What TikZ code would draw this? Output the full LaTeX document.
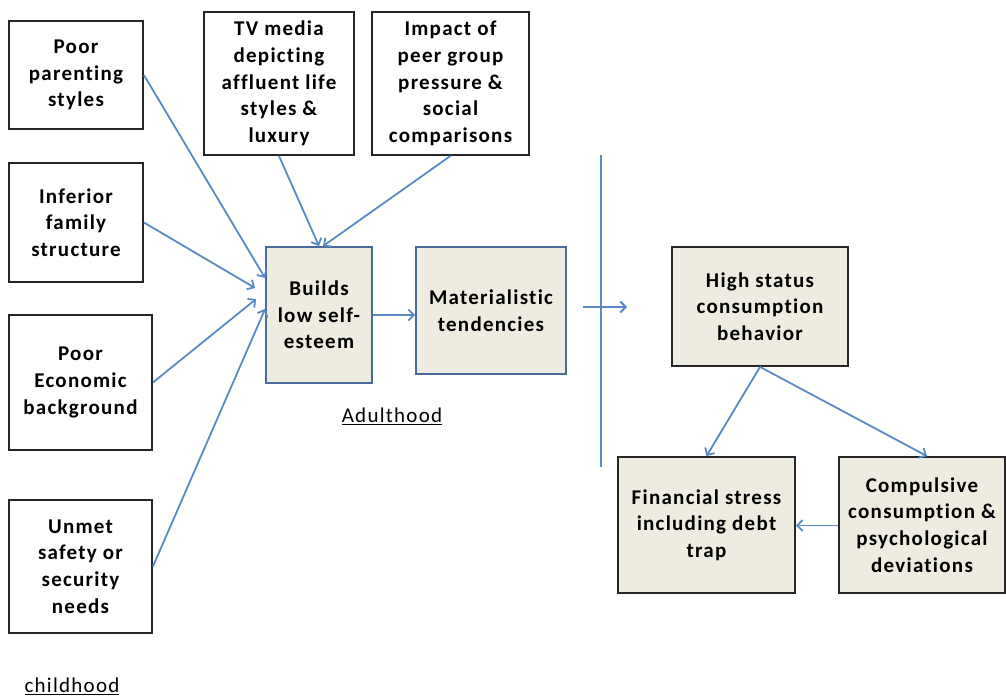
\documentclass[tikz,border=0pt]{standalone}
\usepackage{fontspec}
\setmainfont{Carlito}[LetterSpace=6,Ligatures=NoCommon]
\usetikzlibrary{arrows.meta,calc}
\definecolor{arrowblue}{HTML}{5A8AC6}
\definecolor{boxfill}{HTML}{EEECE1}
\definecolor{boxblue}{HTML}{4A6A9C}
\tikzset{
  every node/.style={font=\fontsize{21pt}{26.7pt}\selectfont\bfseries, align=center, inner sep=0pt},
  wbox/.style={draw=black!85, line width=1.8pt, fill=white},
  bbox/.style={draw=boxblue, line width=1.8pt, fill=boxfill},
  kbox/.style={draw=black!85, line width=1.8pt, fill=boxfill},
  conn/.style={draw=arrowblue, line width=1.8pt, -{Straight Barb[length=5.5pt,width=11pt,line width=1.8pt]}},
  plain/.style={draw=arrowblue, line width=2pt},
  lbl/.style={font=\fontsize{21pt}{24pt}\selectfont}
}
\newcommand{\bx}[7]{% name, style, x1, y1, x2, y2, text
  \node[#2, minimum width={#5-#3}, minimum height={#6-#4}] (#1) at ({(#3+#5)/2},{(#4+#6)/2}) {#7};}
\begin{document}
\begin{tikzpicture}[x=1pt,y=-1pt]
\useasboundingbox (0,0) rectangle (1006,697);
% left column
\bx{pp}{wbox}{9}{21}{143}{129}{Poor\\parenting\\styles}
\bx{inf}{wbox}{9}{163}{143}{282}{Inferior\\family\\structure}
\bx{pe}{wbox}{9}{315}{152}{450}{Poor\\Economic\\background}
\bx{un}{wbox}{9}{500}{152}{633}{Unmet\\safety or\\security\\needs}
% top row
\bx{tv}{wbox}{204}{12}{354}{155}{TV media\\depicting\\affluent life\\styles \&\\luxury}
\bx{im}{wbox}{372}{12}{529}{155}{Impact of\\peer group\\pressure \&\\social\\comparisons}
% middle
\bx{b}{bbox}{266}{247}{372}{383}{Builds\\low self-\\esteem}
\bx{m}{bbox}{416}{247}{566}{374}{Materialistic\\tendencies}
% right
\bx{hs}{kbox}{672}{247}{848}{366}{High status\\consumption\\behavior}
\bx{fs}{kbox}{618}{457}{795}{593}{Financial stress\\including debt\\trap}
\bx{cp}{kbox}{839}{457}{1005}{593}{Compulsive\\consumption \&\\psychological\\deviations}
% labels
\node[lbl] (adult) at (392,416) {\underline{Adulthood}};
\node[lbl] (child) at (72,686) {\underline{childhood}};
% connectors
\draw[conn] (pp.east) -- ([yshift=37pt]b.west);
\draw[conn] (inf.east) -- ([shift={(-10pt,27pt)}]b.west);
\draw[conn] (pe.east) -- ([shift={(-9pt,16pt)}]b.west);
\draw[conn] (un.east) -- ([yshift=6pt]b.west);
\draw[conn] (tv.south) -- (b.north);
\draw[conn] (im.south) -- ([xshift=4pt]b.north);
\draw[conn] (b.east) -- (b.east -| m.west);
\coordinate (vt) at (601,155);
\coordinate (vb) at (601,467);
\draw[plain] (vt) -- (vb);
\coordinate (ca) at (583,307);
\coordinate (cb) at (627,307);
\draw[conn] (ca) -- (cb);
\draw[conn] (hs.south) -- (fs.north);
\draw[conn] (hs.south) -- ([xshift=5pt]cp.north);
\draw[conn] ([yshift=-0.5pt]cp.west) -- ([yshift=-0.5pt]fs.east);
\end{tikzpicture}
\end{document}
